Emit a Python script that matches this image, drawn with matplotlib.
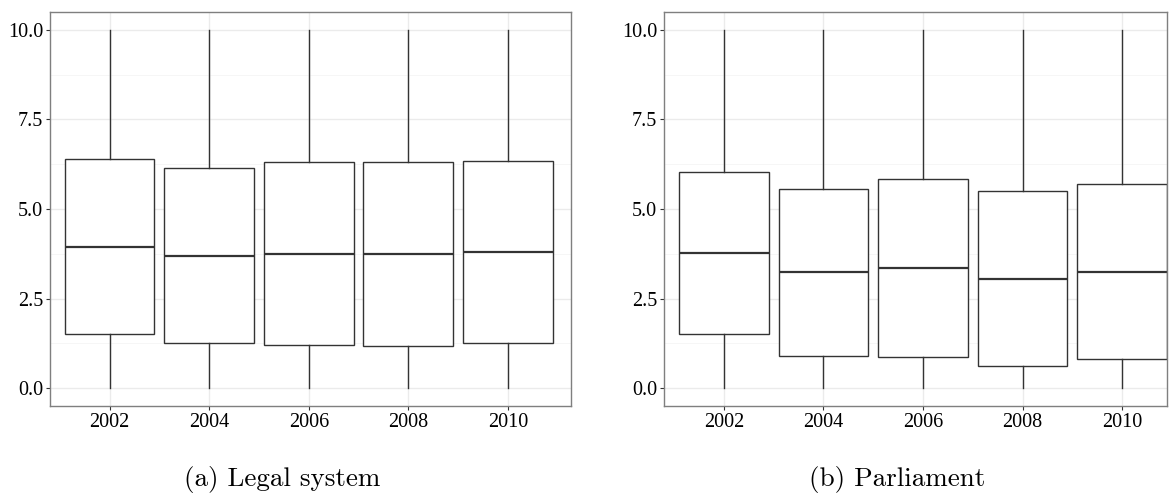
import matplotlib.pyplot as plt
from matplotlib.ticker import MultipleLocator

# Box statistics (whiskers span 0..10)
years = [2002, 2004, 2006, 2008, 2010]

legal_q1 = [1.51, 1.25, 1.20, 1.17, 1.25]
legal_med = [3.95, 3.70, 3.75, 3.73, 3.80]
legal_q3 = [6.40, 6.15, 6.30, 6.30, 6.33]

parl_q1 = [1.52, 0.90, 0.86, 0.62, 0.82]
parl_med = [3.77, 3.23, 3.35, 3.05, 3.25]
parl_q3 = [6.04, 5.57, 5.85, 5.50, 5.70]

whisker_lo = [0, 0, 0, 0, 0]
whisker_hi = [10, 10, 10, 10, 10]

captions = ['(a) Legal system', '(b) Parliament']


def make_stats(q1, med, q3):
    stats = []
    for i in range(len(years)):
        stats.append({'whislo': whisker_lo[i], 'q1': q1[i], 'med': med[i],
                      'q3': q3[i], 'whishi': whisker_hi[i], 'fliers': []})
    return stats


fig = plt.figure(figsize=(11.69, 4.94), dpi=100)
W, H = 1169, 494
ax1 = fig.add_axes([50 / W, 1 - 406 / H, (571 - 50) / W, (406 - 12) / H])
ax2 = fig.add_axes([664 / W, 1 - 406 / H, (1167 - 664) / W, (406 - 12) / H])

panels = [(ax1, make_stats(legal_q1, legal_med, legal_q3), (2000.8, 2011.27)),
          (ax2, make_stats(parl_q1, parl_med, parl_q3), (2000.8, 2010.9))]

for ax, stats, xlim in panels:
    ax.set_axisbelow(True)
    ax.bxp(stats, positions=years, widths=1.8, showcaps=False, showfliers=False,
           patch_artist=True,
           boxprops=dict(facecolor='white', edgecolor='#333333', linewidth=1.0),
           whiskerprops=dict(color='#333333', linewidth=1.0),
           medianprops=dict(color='#333333', linewidth=1.6))
    ax.set_xlim(*xlim)
    ax.set_ylim(-0.5, 10.5)
    ax.set_xticks(years)
    ax.set_xticklabels([str(y) for y in years])
    ax.yaxis.set_major_locator(MultipleLocator(2.5))
    ax.yaxis.set_minor_locator(MultipleLocator(1.25))
    ax.set_yticklabels(['%.1f' % v for v in ax.get_yticks()])
    ax.grid(True, which='major', color='#EBEBEB', linewidth=1.0)
    ax.grid(True, which='minor', axis='y', color='#F5F5F5', linewidth=0.6)
    ax.tick_params(which='minor', length=0)
    ax.tick_params(which='major', length=3, color='#333333', labelsize=14.5,
                   labelcolor='black', pad=2)
    for lab in ax.get_xticklabels() + ax.get_yticklabels():
        lab.set_fontfamily('Liberation Serif')
    for sp in ax.spines.values():
        sp.set_color('#7F7F7F')
        sp.set_linewidth(1.0)

fig.text(282 / W, 1 - 479 / H, captions[0], ha='center', va='center',
         fontsize=19.5, family='cmr10')
fig.text(897 / W, 1 - 479 / H, captions[1], ha='center', va='center',
         fontsize=19.5, family='cmr10')

fig.savefig('out.png', dpi=100)
